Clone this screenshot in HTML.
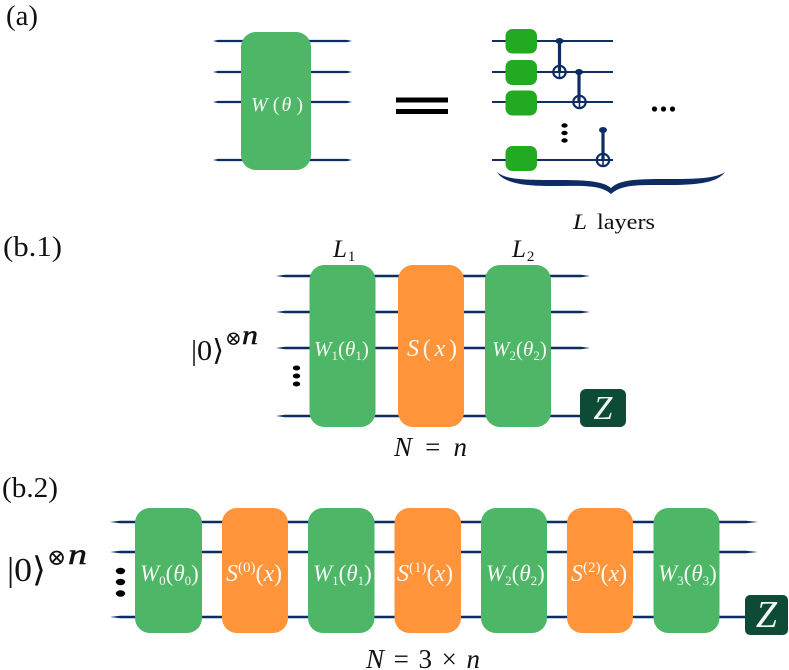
<!DOCTYPE html>
<html>
<head>
<meta charset="utf-8">
<style>
html,body{margin:0;padding:0;background:#fff;width:789px;height:670px;overflow:hidden}
svg{display:block}
text{font-family:"Liberation Serif","DejaVu Serif",serif;fill:#111}
.w{fill:#f4f8f2}
.i{font-style:italic}
.n{font-style:normal}
</style>
</head>
<body>
<svg width="789" height="670" viewBox="0 0 789 670" xmlns="http://www.w3.org/2000/svg">
<!-- panel labels -->
<text x="6" y="25" font-size="28" textLength="32" lengthAdjust="spacingAndGlyphs">(a)</text>
<text x="3" y="256" font-size="28" textLength="59" lengthAdjust="spacingAndGlyphs">(b.1)</text>
<text x="2" y="497" font-size="28" textLength="56" lengthAdjust="spacingAndGlyphs">(b.2)</text>

<!-- (a) left -->
<g fill="#0c2c63">
<path d="M213 41L218 39.900H347L352 41L347 42.100H218ZM213 72L218 70.900H347L352 72L347 73.100H218ZM213 102L218 100.900H347L352 102L347 103.100H218ZM213 160L218 158.900H347L352 160L347 161.100H218Z"/>
</g>
<rect x="241" y="32" width="70" height="138" rx="15" fill="#4db667"/>
<text x="251" y="111" font-size="20" class="w i" textLength="52" lengthAdjust="spacing">W<tspan class="n" dx="3">(</tspan>θ<tspan class="n" dx="3">)</tspan></text>
<rect x="396" y="97.500" width="52" height="5" fill="#000"/>
<rect x="396" y="109" width="52" height="5" fill="#000"/>

<!-- (a) right -->
<g stroke="#12305f" stroke-width="2">
<path d="M492 41H613M492 72H613M492 102H613M492 160H613"/>
</g>
<g fill="#22aa22">
<rect x="505.500" y="29" width="31.500" height="24.500" rx="7"/>
<rect x="505.500" y="60" width="31.500" height="25" rx="7"/>
<rect x="505.500" y="90.500" width="31.500" height="25" rx="7"/>
<rect x="505.500" y="146" width="31.500" height="25" rx="7"/>
</g>
<g stroke="#0c2c63" fill="none">
<path stroke-width="3.200" d="M559.500 41V72M579 72V102M603 130V160"/>
<g stroke-width="2.200">
<circle cx="559.500" cy="72" r="6.200"/>
<circle cx="579.500" cy="102" r="6.200"/>
<circle cx="603" cy="160" r="6.200"/>
</g>
<path stroke-width="1.600" d="M553.500 72H565.500M579.500 96V108M573.500 102H585.500M603 154V166M597 160H609M559.500 66V78"/>
</g>
<g fill="#0c2c63">
<ellipse cx="559.500" cy="41" rx="4" ry="3"/>
<ellipse cx="579" cy="72" rx="4" ry="3"/>
<ellipse cx="603" cy="130" rx="4" ry="3"/>
</g>
<g fill="#000">
<ellipse cx="564.500" cy="125.500" rx="3.200" ry="2.200"/>
<ellipse cx="564.500" cy="133" rx="3.200" ry="2.200"/>
<ellipse cx="564.500" cy="140.500" rx="3.200" ry="2.200"/>
<circle cx="654.500" cy="109" r="2.600"/>
<circle cx="663.500" cy="109" r="2.600"/>
<circle cx="672.500" cy="109" r="2.600"/>
</g>
<path d="M497 172C503 182 520 186 550 186C580 186 600 184 611 194C622 184 640 185 670 185C700 185 718 182 725 172C716 178 700 179 670 179C640 179 620 179 611 188C602 180 580 180 550 180C520 180 505 179 497 172Z" fill="#0c2c63"/>
<text x="573" y="229" font-size="22" class="i" textLength="14" lengthAdjust="spacingAndGlyphs">L</text>
<text x="597" y="229" font-size="22" textLength="58" lengthAdjust="spacingAndGlyphs">layers</text>

<!-- (b.1) -->
<g fill="#0c2c63">
<path d="M276 276L285 274.700H581L590 276L581 277.300H285ZM276 312L285 310.700H581L590 312L581 313.300H285ZM276 348L285 346.700H581L590 348L581 349.300H285ZM276 416L285 414.700H590V417.300H285Z"/>
</g>
<rect x="309.500" y="265" width="66" height="162" rx="15" fill="#4db667"/>
<rect x="398" y="265" width="66" height="162" rx="15" fill="#ff943b"/>
<rect x="485" y="265" width="66" height="162" rx="15" fill="#4db667"/>
<text x="333" y="257" font-size="25" class="i">L<tspan class="n" font-size="15" dy="4" dx="1">1</tspan></text>
<text x="512" y="257" font-size="25" class="i">L<tspan class="n" font-size="15" dy="4" dx="1">2</tspan></text>
<text x="314" y="356" font-size="21" class="w i">W<tspan class="n" font-size="13" dy="4">1</tspan><tspan class="n" dy="-4">(</tspan>θ<tspan class="n" font-size="13" dy="4">1</tspan><tspan class="n" dy="-4">)</tspan></text>
<text x="407" y="356" font-size="24" class="w i" textLength="50" lengthAdjust="spacing">S<tspan class="n">(</tspan>x<tspan class="n">)</tspan></text>
<text x="492" y="356" font-size="21" class="w i">W<tspan class="n" font-size="13" dy="4">2</tspan><tspan class="n" dy="-4">(</tspan>θ<tspan class="n" font-size="13" dy="4">2</tspan><tspan class="n" dy="-4">)</tspan></text>
<g fill="#000">
<ellipse cx="296.500" cy="368" rx="3.700" ry="2.500"/>
<ellipse cx="296.500" cy="376" rx="3.700" ry="2.500"/>
<ellipse cx="296.500" cy="384" rx="3.700" ry="2.500"/>
</g>
<text x="191" y="360" font-size="29" textLength="33" lengthAdjust="spacingAndGlyphs">|0⟩</text>
<text x="225" y="345" font-size="20" font-family="DejaVu Sans">⊗</text>
<text x="242" y="344" font-size="27" class="i" stroke="#111" stroke-width="0.500" textLength="16" lengthAdjust="spacingAndGlyphs">n</text>
<rect x="580" y="389" width="46" height="38" rx="6" fill="#0e4b37"/>
<text x="603" y="419" font-size="34" text-anchor="middle" class="w i">Z</text>
<text x="394" y="456" font-size="27" textLength="73" lengthAdjust="spacing"><tspan class="i">N</tspan> = <tspan class="i">n</tspan></text>

<!-- (b.2) -->
<g fill="#0c2c63">
<path d="M110 522L120 520.700H746L758 522L746 523.300H120ZM110 552L120 550.700H746L758 552L746 553.300H120ZM110 617L120 615.700H750V618.300H120Z"/>
</g>
<rect x="135" y="508" width="67" height="125" rx="15" fill="#4db667"/>
<rect x="222" y="508" width="66" height="125" rx="15" fill="#ff943b"/>
<rect x="308" y="508" width="66.500" height="125" rx="15" fill="#4db667"/>
<rect x="394.500" y="508" width="66.500" height="125" rx="15" fill="#ff943b"/>
<rect x="481" y="508" width="66" height="125" rx="15" fill="#4db667"/>
<rect x="567" y="508" width="66" height="125" rx="15" fill="#ff943b"/>
<rect x="653.500" y="508" width="66" height="125" rx="15" fill="#4db667"/>
<text x="140" y="581" font-size="23" class="w i">W<tspan class="n" font-size="13" dy="4">0</tspan><tspan class="n" dy="-4">(</tspan>θ<tspan class="n" font-size="13" dy="4">0</tspan><tspan class="n" dy="-4">)</tspan></text>
<text x="313" y="581" font-size="23" class="w i">W<tspan class="n" font-size="13" dy="4">1</tspan><tspan class="n" dy="-4">(</tspan>θ<tspan class="n" font-size="13" dy="4">1</tspan><tspan class="n" dy="-4">)</tspan></text>
<text x="486" y="581" font-size="23" class="w i">W<tspan class="n" font-size="13" dy="4">2</tspan><tspan class="n" dy="-4">(</tspan>θ<tspan class="n" font-size="13" dy="4">2</tspan><tspan class="n" dy="-4">)</tspan></text>
<text x="658" y="581" font-size="23" class="w i">W<tspan class="n" font-size="13" dy="4">3</tspan><tspan class="n" dy="-4">(</tspan>θ<tspan class="n" font-size="13" dy="4">3</tspan><tspan class="n" dy="-4">)</tspan></text>
<text x="226" y="581" font-size="24" class="w i">S<tspan class="n" font-size="15" dy="-9">(0)</tspan><tspan class="n" dy="9">(</tspan>x<tspan class="n">)</tspan></text>
<text x="397" y="581" font-size="24" class="w i">S<tspan class="n" font-size="15" dy="-9">(1)</tspan><tspan class="n" dy="9">(</tspan>x<tspan class="n">)</tspan></text>
<text x="571" y="581" font-size="24" class="w i">S<tspan class="n" font-size="15" dy="-9">(2)</tspan><tspan class="n" dy="9">(</tspan>x<tspan class="n">)</tspan></text>
<g fill="#000">
<ellipse cx="120.500" cy="571" rx="4.700" ry="3.200"/>
<ellipse cx="120.500" cy="582" rx="4.700" ry="3.200"/>
<ellipse cx="120.500" cy="593.500" rx="4.700" ry="3.200"/>
</g>
<text x="7" y="581" font-size="34" textLength="39" lengthAdjust="spacingAndGlyphs">|0⟩</text>
<text x="47" y="565" font-size="23" font-family="DejaVu Sans">⊗</text>
<text x="68" y="564" font-size="30" class="i" stroke="#111" stroke-width="0.500" textLength="19" lengthAdjust="spacingAndGlyphs">n</text>
<rect x="745" y="595" width="43" height="40" rx="5" fill="#0e4b37"/>
<text x="766.500" y="627" font-size="38" text-anchor="middle" class="w i">Z</text>
<text x="366" y="668" font-size="27" textLength="114" lengthAdjust="spacing"><tspan class="i">N</tspan> = 3 × <tspan class="i">n</tspan></text>
</svg>
</body>
</html>
